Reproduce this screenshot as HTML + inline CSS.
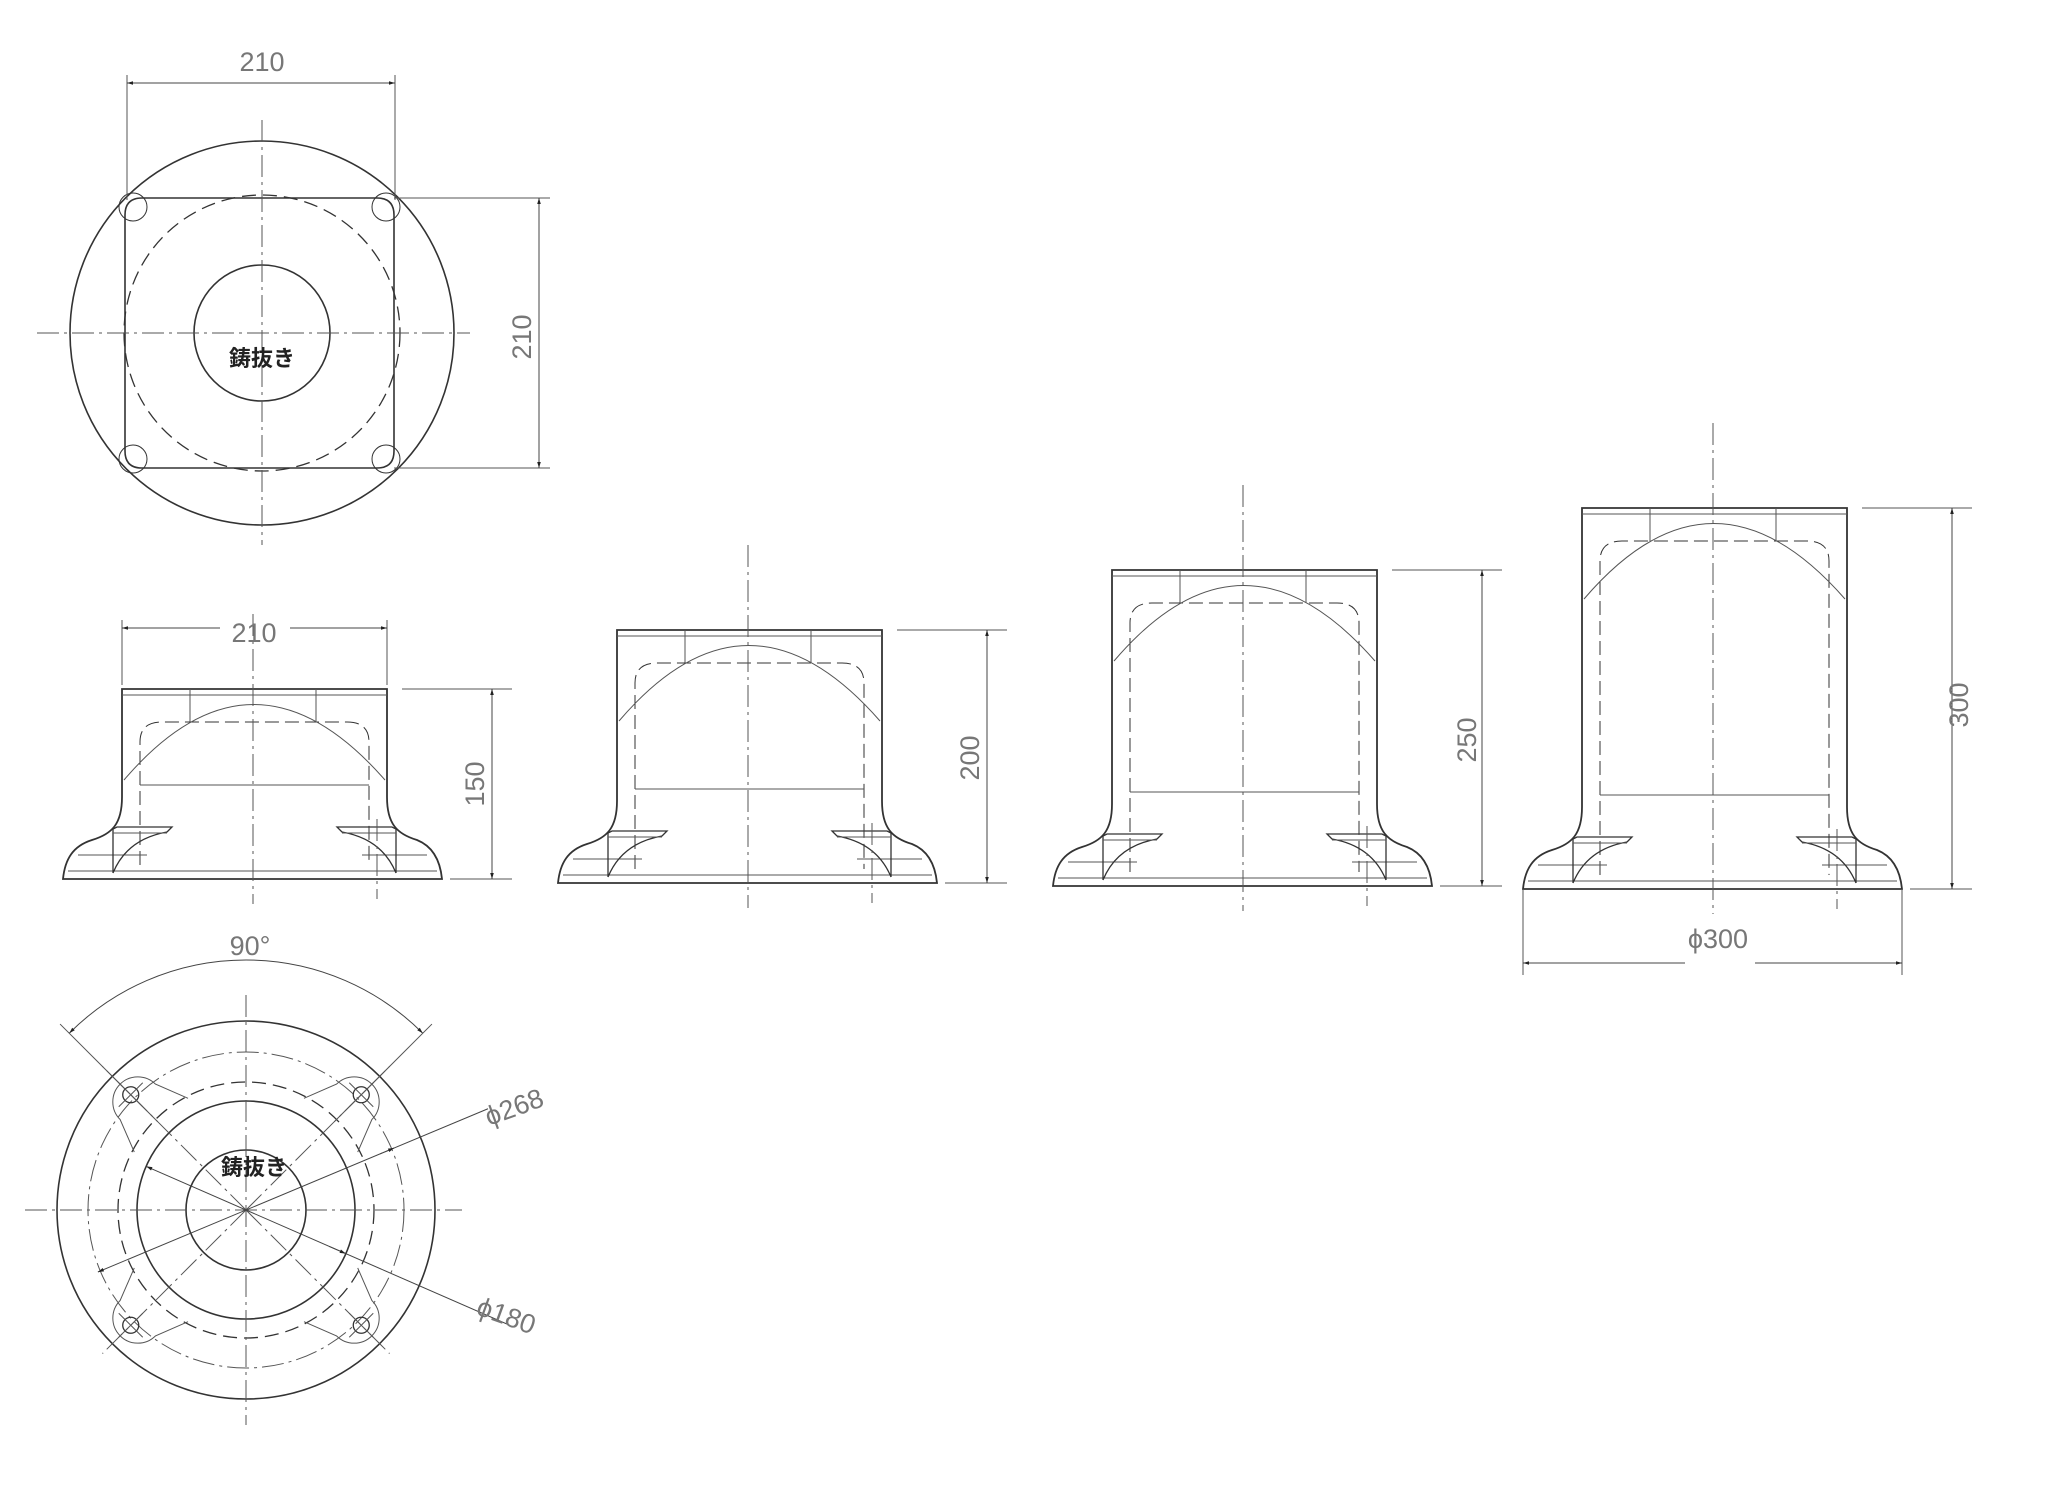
<!DOCTYPE html>
<html><head><meta charset="utf-8"><style>
html,body{margin:0;padding:0;background:#fff;}
svg{display:block}
text{font-family:"Liberation Sans","Noto Sans CJK JP",sans-serif;}
.dim{fill:#777;font-size:27px;}
.jp{fill:#222;font-size:22px;font-weight:bold;}
</style></head><body>
<svg id="s" width="2048" height="1506" viewBox="0 0 2048 1506" xmlns="http://www.w3.org/2000/svg">
<defs>
<marker id="a" viewBox="0 0 10 10" refX="10" refY="5" markerWidth="14" markerHeight="6" markerUnits="userSpaceOnUse" orient="auto-start-reverse"><path d="M0,2 L10,5 L0,8z" fill="#222"/></marker>
</defs>
<g id="g" fill="none" stroke="#333" stroke-width="1.3"></g>
<text class="dim" x="262" y="71" text-anchor="middle">210</text>
<text class="dim" transform="translate(531,337) rotate(-90)" text-anchor="middle">210</text>
<text class="jp" x="262" y="366" text-anchor="middle">鋳抜き</text>
<text class="dim" x="254" y="642" text-anchor="middle">210</text>
<text class="dim" x="250" y="955" text-anchor="middle">90°</text>
<text class="dim" transform="translate(489,1126) rotate(-20)">ϕ268</text>
<text class="dim" transform="translate(475,1314) rotate(20)">ϕ180</text>
<text class="jp" x="254" y="1175" text-anchor="middle">鋳抜き</text>
<text class="dim" x="1718" y="948" text-anchor="middle">ϕ300</text>
</svg>
<script>
var g=document.getElementById('g');var NS='http://www.w3.org/2000/svg';
function el(t,a){var e=document.createElementNS(NS,t);for(var k in a)e.setAttribute(k,a[k]);g.appendChild(e);return e;}
function L(x1,y1,x2,y2,o){var a={x1:x1,y1:y1,x2:x2,y2:y2};if(o)for(var k in o)a[k]=o[k];return el('line',a);}
function C(cx,cy,r,o){var a={cx:cx,cy:cy,r:r};if(o)for(var k in o)a[k]=o[k];return el('circle',a);}
function P(d,o){var a={d:d};if(o)for(var k in o)a[k]=o[k];return el('path',a);}
var thin={'stroke-width':1,stroke:'#555'};
var cl={'stroke-width':1,stroke:'#555','stroke-dasharray':'22 5 3 5'};
var dash={'stroke-dasharray':'14 7'};
var arr={'marker-start':'url(#a)','marker-end':'url(#a)','stroke-width':1,stroke:'#444'};
// TOP VIEW
var cx=262,cy=333;
C(cx,cy,192,{'stroke-width':1.6});
P('M125,215 Q125,198 142,198 H377 Q394,198 394,215 V451 Q394,468 377,468 H142 Q125,468 125,451 Z',{fill:'#fff','stroke-width':1.6});
[[133,207],[386,207],[133,459],[386,459]].forEach(function(p){C(p[0],p[1],14,{'stroke-width':1});});
C(cx,cy,138,dash);C(cx,cy,68,{'stroke-width':1.6});
L(37,333,470,333,cl);L(262,120,262,545,cl);
L(127,75,127,200,thin);L(395,75,395,200,thin);L(127,83,395,83,arr);
L(394,198,550,198,thin);L(394,468,550,468,thin);L(539,198,539,468,arr);
// SIDE VIEWS
var V=[[122,689,879],[617,630,883],[1112,570,886],[1582,508,889]];
V.forEach(function(v,i){
 var l=v[0],t=v[1],b=v[2],r=l+265,c=l+131,lb=l-59,rb=r+55;
 var d='M'+l+','+t+' H'+r+' V'+(b-82)+' C'+r+','+(b-55)+' '+(r+10)+','+(b-45)+' '+(r+30)+','+(b-39)+' C'+(rb-10)+','+(b-33)+' '+(rb-2)+','+(b-20)+' '+rb+','+b+' H'+lb+' C'+(lb+2)+','+(b-20)+' '+(lb+10)+','+(b-33)+' '+(l-30)+','+(b-39)+' C'+(l-10)+','+(b-45)+' '+l+','+(b-55)+' '+l+','+(b-82)+' Z';
 P(d,{'stroke-width':1.8});
 L(l,t+6,r,t+6,thin);
 L(c-63,t,c-63,t+33,thin);L(c+63,t,c+63,t+33,thin);
 P('M'+(l+18)+','+(b-14)+' V'+(t+53)+' Q'+(l+18)+','+(t+33)+' '+(l+40)+','+(t+33)+' H'+(r-40)+' Q'+(r-18)+','+(t+33)+' '+(r-18)+','+(t+53)+' V'+(b-14),{'stroke-width':1,'stroke-dasharray':'14 6'});
 P('M'+(l+2)+','+(t+91)+' Q'+c+','+(t-60)+' '+(r-2)+','+(t+91),thin);
 L(l+18,b-94,r-18,b-94,thin);
 L(lb+15,b-24,l+25,b-24,thin);L(r-25,b-24,rb-15,b-24,thin);
 L(lb+5,b-8,rb-5,b-8,thin);
 P('M'+(l-9)+','+(b-6)+' V'+(b-50)+' L'+(l-5)+','+(b-52)+' H'+(l+50)+' L'+(l+45)+','+(b-47)+' Q'+(l+5)+','+(b-40)+' '+(l-9)+','+(b-6),{'stroke-width':1.3});
 P('M'+(r+9)+','+(b-6)+' V'+(b-50)+' L'+(r+5)+','+(b-52)+' H'+(r-50)+' L'+(r-45)+','+(b-47)+' Q'+(r-5)+','+(b-40)+' '+(r+9)+','+(b-6),{'stroke-width':1.3});
 L(l-9,b-46,l+45,b-46,thin);L(r+9,b-46,r-45,b-46,thin);
 L(r-10,b-60,r-10,b+20,cl);
 L(c,t-85+(i==0?10:0),c,b+25,cl);
 L(r+15,t,r+125,t,thin);L(rb+8,b,r+125,b,thin);L(r+105,t,r+105,b,arr);
});
L(122,620,122,685,thin);L(387,620,387,685,thin);L(122,628,220,628,{'stroke-width':1,stroke:'#444','marker-start':'url(#a)'});L(290,628,387,628,{'stroke-width':1,stroke:'#444','marker-end':'url(#a)'});
document.querySelector('svg').insertAdjacentHTML('beforeend','<text class="dim" transform="translate(484,784) rotate(-90)" text-anchor="middle">150</text><text class="dim" transform="translate(979,758) rotate(-90)" text-anchor="middle">200</text><text class="dim" transform="translate(1476,740) rotate(-90)" text-anchor="middle">250</text><text class="dim" transform="translate(1968,705) rotate(-90)" text-anchor="middle">300</text>');
L(1523,889,1523,975,thin);L(1902,889,1902,975,thin);
L(1523,963,1685,963,{'stroke-width':1,stroke:'#444','marker-start':'url(#a)'});L(1755,963,1902,963,{'stroke-width':1,stroke:'#444','marker-end':'url(#a)'});
// BOTTOM VIEW
cx=246;cy=1210;
C(cx,cy,189,{'stroke-width':1.6});C(cx,cy,158,cl);C(cx,cy,128,dash);C(cx,cy,109,{'stroke-width':1.6});C(cx,cy,60,{'stroke-width':1.6});
L(25,cy,462,cy,cl);L(cx,995,cx,1425,cl);
[45,135,225,315].forEach(function(a){var r=a*Math.PI/180;var dx=Math.cos(r),dy=Math.sin(r);
 L(cx,cy,cx+dx*203,cy-dy*203,cl);
 var hx=cx+dx*163,hy=cy-dy*163;C(hx,hy,8,{'stroke-width':1.3});
 L(hx-12,hy-12,hx+12,hy+12,thin);L(hx-12,hy+12,hx+12,hy-12,thin);
 var px=-dy,py=-dx;var ix=cx+dx*120,iy=cy-dy*120;
 P('M'+(ix+px*38)+','+(iy+py*38)+' L'+(hx-dx*10+px*25)+','+(hy+dy*10+py*25)+' A24,24 0 0 1 '+(hx-dx*10-px*25)+','+(hy+dy*10-py*25)+' L'+(ix-px*38)+','+(iy-py*38),thin);
});
var R=250;function pt(a){var r=a*Math.PI/180;return [cx+R*Math.cos(r),cy-R*Math.sin(r)];}
var p1=pt(135),p2=pt(45);
P('M'+p1[0]+','+p1[1]+' A'+R+','+R+' 0 0 1 '+p2[0]+','+p2[1],{'stroke-width':1,stroke:'#444','marker-start':'url(#a)','marker-end':'url(#a)'});
L(cx-0.707*125,cy-0.707*125,cx-0.707*263,cy-0.707*263,thin);L(cx+0.707*125,cy-0.707*125,cx+0.707*263,cy-0.707*263,thin);
L(cx-0.92*161,cy+0.385*161,cx+0.92*263,cy-0.385*263,{'stroke-width':1,stroke:'#444','marker-start':'url(#a)'});L(cx+0.92*146,cy-0.385*146,cx+0.92*161,cy-0.385*161,{'stroke-width':1,stroke:'#444','marker-end':'url(#a)'});
L(cx-0.915*109,cy-0.4*109,cx+0.915*288,cy+0.4*288,{'stroke-width':1,stroke:'#444','marker-start':'url(#a)'});L(cx+0.915*91,cy+0.4*91,cx+0.915*109,cy+0.4*109,{'stroke-width':1,stroke:'#444','marker-end':'url(#a)'});
</script>
</body></html>
